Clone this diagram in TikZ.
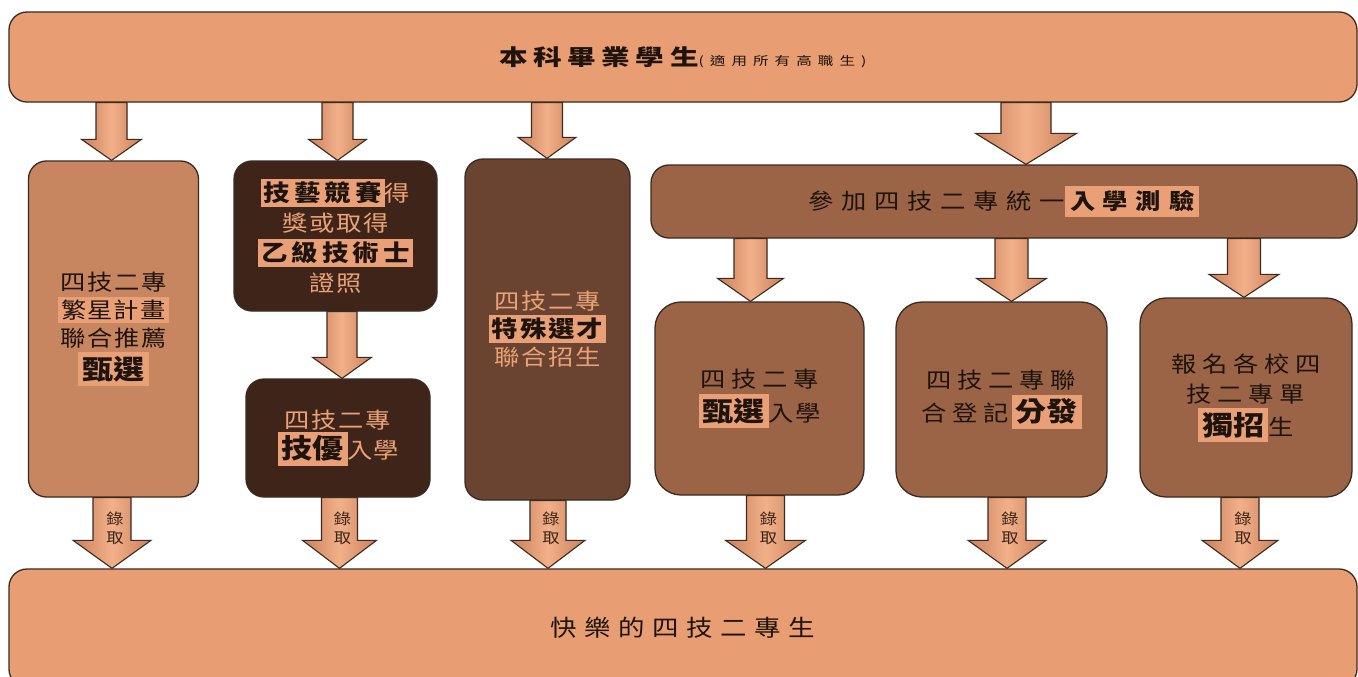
\documentclass[tikz,border=0pt]{standalone}
\usepackage{fontspec}
\setmainfont{Noto Sans CJK TC}[FakeStretch=1.15]
\newfontfamily\titlefont{Noto Sans CJK TC}[FakeStretch=1.3]
\usetikzlibrary{calc}

\definecolor{barfill}{HTML}{E99D72}
\definecolor{col1fill}{HTML}{C88660}
\definecolor{darkfill}{HTML}{3F2519}
\definecolor{col3fill}{HTML}{6A4430}
\definecolor{midfill}{HTML}{9B6446}
\definecolor{hlfill}{HTML}{E9A077}
\definecolor{lighttext}{HTML}{EBA277}
\definecolor{darktext}{HTML}{1E130D}
\definecolor{edge}{HTML}{3A2A22}
\definecolor{arrowmid}{HTML}{F2B089}
\definecolor{arrowside}{HTML}{C9805A}
\definecolor{lqcolor}{HTML}{3A2518}

\makeatletter
\newcommand\spc[2]{\def\spc@f{1}\@tfor\spc@c:=#2\do{\ifnum\spc@f=0 \hspace*{#1}\fi\def\spc@f{0}\spc@c}}
\makeatother
\newcommand\hl[2][3pt]{{\setlength\fboxsep{#1}\colorbox{hlfill}{\color{darktext}#2}}}
\newcommand\hlm[1]{{\setlength\fboxsep{3pt}\colorbox{hlfill}{\fontsize{23}{26}\selectfont\bfseries\color{darktext}#1}}}
\newcommand\hlbig[1]{{\setlength\fboxsep{4pt}\colorbox{hlfill}{\fontsize{27}{30}\selectfont\bfseries\color{darktext}#1}}}

% block arrow: x, from node, to node, shaft half width, head half width, head length
\newcommand\barrow[6]{%
  \path[blockarrow] let \p1=(#2.south), \p2=(#3.north) in
    ({#1pt-#4pt},\y1) -- ({#1pt+#4pt},\y1) -- ({#1pt+#4pt},{\y2+#6pt})
    -- ({#1pt+#5pt},{\y2+#6pt}) -- (#1pt,\y2) -- ({#1pt-#5pt},{\y2+#6pt})
    -- ({#1pt-#4pt},{\y2+#6pt}) -- cycle;}

\tikzset{
  box/.style={draw=edge, line width=1.3pt, rounded corners=18pt, align=center,
    inner sep=0pt, text=darktext},
  bigbox/.style={box, rounded corners=26pt},
  blockarrow/.style={draw=edge, line width=1.1pt, left color=arrowside,
    right color=arrowside, middle color=arrowmid, line join=miter},
  lqtext/.style={font=\fontsize{15}{19}\selectfont, text=lqcolor, align=center,
    inner sep=0pt},
}

\begin{document}
\begin{tikzpicture}[x=1pt,y=-1pt]
\path[use as bounding box] (0,0) rectangle (1358,677);
\clip (0,0) rectangle (1358,677);
\fill[white] (0,0) rectangle (1358,677);

% top bar
\node[box, fill=barfill, minimum width=1348pt, minimum height=90pt] (top) at (683,57)
  {\titlefont\bfseries\fontsize{22}{26}\selectfont\spc{5.5pt}{本科畢業學生}\mdseries\fontsize{12}{14}\selectfont\spc{6pt}{(適用所有高職生)}};

% column 1
\node[box, fill=col1fill, minimum width=170pt, minimum height=336pt,
  font=\fontsize{22}{28}\selectfont] (c1) at (113.5,329)
  {\spc{1.7pt}{四技二專}\\ \hl{\spc{1pt}{繁星計畫}}\\ \spc{1.7pt}{聯合推薦}\\[3pt] \hlbig{甄選}};

% column 2
\node[box, fill=darkfill, text=lighttext, minimum width=203pt, minimum height=150pt,
  font=\fontsize{22}{30}\selectfont] (c2t) at (335.5,236)
  {\hlm{\spc{4pt}{技藝競賽}}得\\ \spc{1.7pt}{獎或取得}\\ \hlm{\spc{4pt}{乙級技術士}}\\ \spc{1.7pt}{證照}};
\node[box, fill=darkfill, text=lighttext, minimum width=184pt, minimum height=118pt,
  font=\fontsize{22}{30}\selectfont] (c2b) at (338,438)
  {\spc{1.7pt}{四技二專}\\ \hlbig{技優}\spc{0pt}{入學}};

% column 3
\node[box, fill=col3fill, text=lighttext, minimum width=165pt, minimum height=341pt,
  font=\fontsize{22}{28}\selectfont] (c3) at (547.5,329.5)
  {\spc{1.7pt}{四技二專}\\ \hlm{\spc{2pt}{特殊選才}}\\ \spc{1.7pt}{聯合招生}};

% unified exam bar
\node[box, fill=midfill, minimum width=706pt, minimum height=73pt,
  font=\fontsize{22}{28}\selectfont] (mid) at (1004,201.5)
  {\spc{7.7pt}{參加四技二專統一}\hl[5pt]{\bfseries\spc{7.7pt}{入學測驗}}};

% three result boxes
\node[bigbox, fill=midfill, minimum width=209pt, minimum height=193pt,
  font=\fontsize{22}{34}\selectfont] (ba) at (759.5,398.5)
  {\spc{5.7pt}{四技二專}\\ \hlbig{甄選}\spc{1pt}{入學}};
\node[bigbox, fill=midfill, minimum width=211pt, minimum height=195pt,
  font=\fontsize{22}{33}\selectfont] (bb) at (1001.5,399.5)
  {\spc{5.7pt}{四技二專聯}\\ \spc{5.7pt}{合登記}\hspace*{3pt}\hlbig{分發}};
\node[bigbox, fill=midfill, minimum width=212pt, minimum height=199pt,
  font=\fontsize{22}{30}\selectfont] (bc) at (1246,397.5)
  {\spc{5.7pt}{報名各校四}\\ \spc{5.7pt}{技二專單}\\[3pt] \hlbig{獨招}生};

% bottom bar
\node[box, fill=barfill, minimum width=1348pt, minimum height=118pt] (bot) at (683,628)
  {\fontsize{23}{27}\selectfont\spc{7.5pt}{快樂的四技二專生}};

% arrows from top bar
\barrow{111.5}{top}{c1}{15.5}{30}{21}
\barrow{337.5}{top}{c2t}{15.5}{29}{21}
\barrow{547}{top}{c3}{15.5}{29}{21}
\barrow{1026}{top}{mid}{25}{50.5}{31}
\barrow{342}{c2t}{c2b}{15}{29.5}{21}
\barrow{750.5}{mid}{ba}{16.5}{33}{23}
\barrow{1011.5}{mid}{bb}{16.5}{35}{23}
\barrow{1244}{mid}{bc}{16.5}{35}{23}

% admission arrows
\barrow{112}{c1}{bot}{19}{39}{28}
\barrow{339.5}{c2b}{bot}{18}{37}{28}
\barrow{548}{c3}{bot}{18}{37}{28}
\barrow{765.5}{ba}{bot}{19}{40}{28}
\barrow{1007}{bb}{bot}{19}{39}{28}
\barrow{1240}{bc}{bot}{19}{38}{28}

\node[lqtext] (lq1) at (115,528) {錄\\取};
\node[lqtext] (lq2) at (342.5,528) {錄\\取};
\node[lqtext] (lq3) at (551,528) {錄\\取};
\node[lqtext] (lq4) at (768.5,528) {錄\\取};
\node[lqtext] (lq5) at (1010,528) {錄\\取};
\node[lqtext] (lq6) at (1243,528) {錄\\取};
\end{tikzpicture}
\end{document}
